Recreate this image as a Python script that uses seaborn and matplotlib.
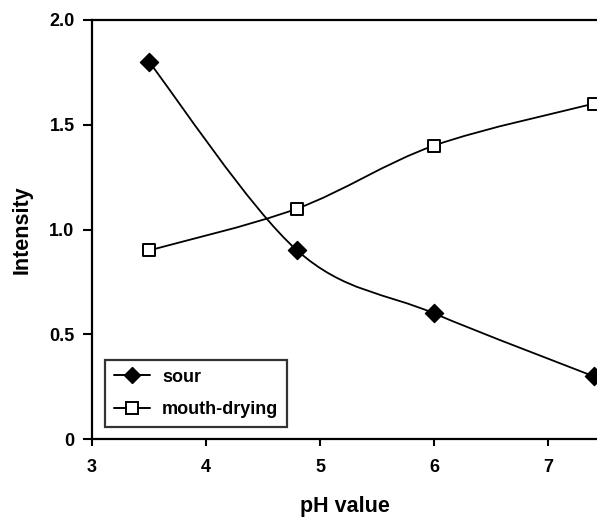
import numpy as np
import pandas as pd
import seaborn as sns
import matplotlib
matplotlib.use("Agg")
import matplotlib.pyplot as plt
from matplotlib.path import Path
from matplotlib.patches import PathPatch
from matplotlib.lines import Line2D

ph = [3.5, 4.8, 6.0, 7.4]
sour = [1.8, 0.9, 0.6, 0.3]
mouth_drying = [0.9, 1.1, 1.4, 1.6]
x_ticks = [3, 4, 5, 6, 7]
y_ticks = [0, 0.5, 1.0, 1.5, 2.0]
y_tick_labels = ["0", "0.5", "1.0", "1.5", "2.0"]
series_labels = ["sour", "mouth-drying"]

sns.set_theme(style="white")
plt.rcParams['font.family'] = ['Liberation Sans', 'DejaVu Sans']
plt.rcParams['font.weight'] = 'bold'
for key in ["text.color", "axes.labelcolor", "xtick.color", "ytick.color",
            "xtick.labelcolor", "ytick.labelcolor"]:
    plt.rcParams[key] = "black"

fig = plt.figure(figsize=(5.97, 5.21), dpi=100)
ax = fig.add_axes([0.154, 0.157, 0.846, 0.805])


def smooth_path(xs, ys):
    pts = np.column_stack([xs, ys])
    verts = [tuple(pts[0])]
    codes = [Path.MOVETO]
    n = len(pts)
    for i in range(n - 1):
        p0 = pts[i - 1] if i > 0 else pts[i]
        p1 = pts[i]
        p2 = pts[i + 1]
        p3 = pts[i + 2] if i + 2 < n else pts[i + 1]
        c1 = p1 + (p2 - p0) / 6.0
        c2 = p2 - (p3 - p1) / 6.0
        verts += [tuple(c1), tuple(c2), tuple(p2)]
        codes += [Path.CURVE4] * 3
    return Path(verts, codes)


df = pd.DataFrame({"ph": ph, "sour": sour, "mouth": mouth_drying})

ax.add_patch(PathPatch(smooth_path(ph, sour), fill=False, edgecolor="black", lw=1.3, zorder=2))
ax.add_patch(PathPatch(smooth_path(ph, mouth_drying), fill=False, edgecolor="black", lw=1.3, zorder=2))

sns.scatterplot(data=df, x="ph", y="sour", marker="D", s=85, color="black",
                edgecolor="black", linewidth=1, ax=ax, zorder=3, clip_on=False)
sns.scatterplot(data=df, x="ph", y="mouth", marker="s", s=80, color="white",
                edgecolor="black", linewidth=1.4, ax=ax, zorder=3, clip_on=False)

ax.set_xlim(3, 7.43)
ax.set_ylim(0, 2.0)
ax.set_xticks(x_ticks)
ax.set_xticklabels([str(t) for t in x_ticks])
ax.set_yticks(y_ticks)
ax.set_yticklabels(y_tick_labels)

for side in ["left", "bottom", "top"]:
    ax.spines[side].set_visible(True)
    ax.spines[side].set_color("black")
    ax.spines[side].set_linewidth(1.6)
ax.spines["right"].set_visible(False)

ax.tick_params(axis="y", which="major", direction="out", length=6.5, width=1.5,
               color="black", labelsize=13, pad=6, left=True)
ax.tick_params(axis="x", which="major", direction="out", length=5, width=1.5,
               color="black", labelsize=13, pad=9, bottom=True)
for lab in ax.get_xticklabels() + ax.get_yticklabels():
    lab.set_fontweight("bold")

ax.set_xlabel("pH value", fontsize=15.5, fontweight="bold", labelpad=15)
ax.set_ylabel("Intensity", fontsize=15.5, fontweight="bold", labelpad=12)

handles = [
    Line2D([0], [0], color="black", lw=1.4, marker="D", markersize=8,
           markerfacecolor="black", markeredgecolor="black"),
    Line2D([0], [0], color="black", lw=1.4, marker="s", markersize=8,
           markerfacecolor="white", markeredgecolor="black", markeredgewidth=1.4),
]
leg = ax.legend(handles, series_labels, loc="lower left",
                bbox_to_anchor=(0.026, 0.029), borderaxespad=0, frameon=True,
                fancybox=False, edgecolor="black", fontsize=13, handlelength=2.0,
                borderpad=0.5, labelspacing=0.85, handletextpad=0.65)
leg.get_frame().set_linewidth(1.6)
for t in leg.get_texts():
    t.set_fontweight("bold")

fig.savefig("out.png", dpi=100)
